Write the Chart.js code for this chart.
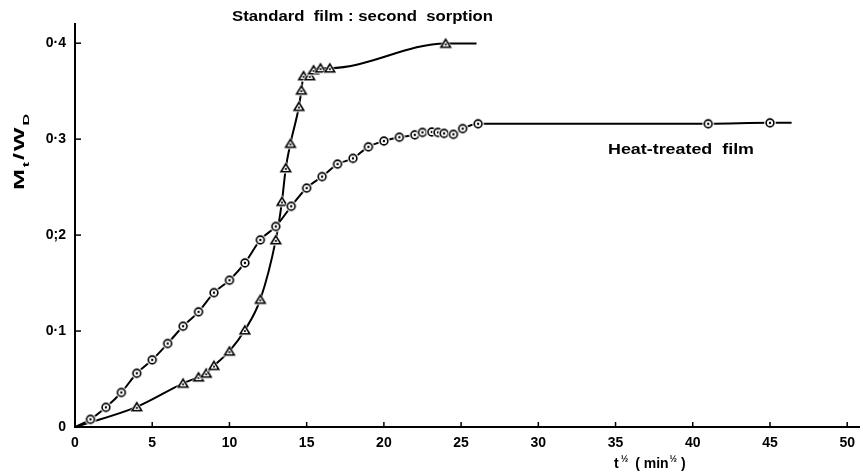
<!DOCTYPE html>
<html>
<head>
<meta charset="utf-8">
<script src="https://cdn.jsdelivr.net/npm/chart.js@4.4.0/dist/chart.umd.min.js"></script>
<style>
body{margin:0;background:#fff}
</style>
</head>
<body>
<canvas id="canvas" width="863" height="472"></canvas>
<script>
// heat-treated film (circles)
var heatX=[0,1,2,3,4,5,6,7,8,9,10,11,12,13,14,15,16,17,18,19,20,21,22,22.5,23.1,23.5,23.9,24.5,25.1,26.1,41,45,46.4]
var heatY=[0,0.008,0.0205,0.036,0.056,0.070,0.087,0.105,0.120,0.140,0.153,0.171,0.195,0.209,0.230,0.249,0.261,0.274,0.280,0.292,0.298,0.302,0.3045,0.307,0.3075,0.307,0.306,0.305,0.311,0.316,0.316,0.317,0.317]
// standard film, second sorption (triangles)
var stdX=[0,4,7,8,8.5,9,10,11,12,13,13.4,13.65,13.95,14.5,14.66,14.8,15.2,15.45,15.9,16.5,24,26]
var stdY=[0,0.021,0.0455,0.052,0.056,0.064,0.079,0.101,0.133,0.195,0.235,0.270,0.2955,0.334,0.351,0.366,0.366,0.372,0.374,0.374,0.3997,0.3997]
var yTickLabels={'0':'0','0.1':'0·1','0.2':'0;2','0.3':'0·3','0.4':'0·4'}

var FONT='"Liberation Sans", Arial, sans-serif'

function toPoints(xs,ys){
    var pts=[]
    for(var i=0;i<xs.length;i++){ pts.push({x:xs[i],y:ys[i]}) }
    return pts
}

function circleMarker(){
    var c=document.createElement('canvas'); c.width=14; c.height=14
    var g=c.getContext('2d')
    g.beginPath(); g.arc(7,7,5.8,0,Math.PI*2); g.fillStyle='#fff'; g.fill()
    g.beginPath(); g.arc(7,7,3.9,0,Math.PI*2); g.lineWidth=1.6; g.strokeStyle='#000'; g.stroke()
    g.beginPath(); g.arc(7,7,1.2,0,Math.PI*2); g.fillStyle='#000'; g.fill()
    return c
}
function triMarker(){
    var c=document.createElement('canvas'); c.width=16; c.height=14
    var g=c.getContext('2d')
    g.beginPath(); g.moveTo(8,0.5); g.lineTo(15.5,12.5); g.lineTo(0.5,12.5); g.closePath(); g.fillStyle='#fff'; g.fill()
    g.beginPath(); g.moveTo(8,2.8); g.lineTo(12.8,10.8); g.lineTo(3.2,10.8); g.closePath()
    g.lineWidth=1.6; g.strokeStyle='#000'; g.lineJoin='miter'; g.stroke()
    g.beginPath(); g.arc(8,8,1.1,0,Math.PI*2); g.fillStyle='#000'; g.fill()
    return c
}
var circ=circleMarker(), tri=triMarker()

function endRadius(n){
    return function(c){ return (c.dataIndex===0||c.dataIndex===n-1)?0:4 }
}

function drawFit(ctx,text,x,y,w,font){
    ctx.save()
    ctx.font=font
    var s=w/ctx.measureText(text).width
    ctx.translate(x,y); ctx.scale(s,1)
    ctx.fillText(text,0,0)
    ctx.restore()
}

var extras={
    id:'extras',
    afterDraw:function(chart){
        var ctx=chart.ctx, xs=chart.scales.x, ys=chart.scales.y, a=chart.chartArea
        ctx.save()
        ctx.strokeStyle='#000'; ctx.lineWidth=1.5
        xs.ticks.forEach(function(t){
            if(t.value===0) return
            var px=xs.getPixelForValue(t.value)
            ctx.beginPath(); ctx.moveTo(px,a.bottom); ctx.lineTo(px,a.bottom-5); ctx.stroke()
        })
        ys.ticks.forEach(function(t){
            if(t.value===0) return
            var py=ys.getPixelForValue(t.value)
            ctx.beginPath(); ctx.moveTo(a.left,py); ctx.lineTo(a.left+6,py); ctx.stroke()
        })
        ctx.fillStyle='#000'
        ctx.textBaseline='alphabetic'; ctx.textAlign='left'
        drawFit(ctx,'Standard  film : second  sorption',232,21,261,'bold 14px '+FONT)
        drawFit(ctx,'Heat-treated  film',608,154,146,'bold 14px '+FONT)

        // x axis title  t^1/2 ( min^1/2 )
        var big='bold 14px '+FONT, sm='bold 9px '+FONT
        var x=614, b=468
        ctx.font=big; ctx.fillText('t',x,b); x+=ctx.measureText('t').width+2
        ctx.font=sm; ctx.fillText('½',x,b-6); x+=ctx.measureText('½').width+7
        ctx.font=big; ctx.fillText('( min',x,b); x+=ctx.measureText('( min').width+1
        ctx.font=sm; ctx.fillText('½',x,b-6); x+=ctx.measureText('½').width+4
        ctx.font=big; ctx.fillText(')',x,b)

        // y axis title  M_t / W_D (rotated)
        ctx.save()
        ctx.translate(24,190); ctx.rotate(-Math.PI/2)
        var parts=[['M',big,0],['t',sm,5],['/',big,0],['W',big,0],['D',sm,5]]
        var tot=0
        parts.forEach(function(p){ ctx.font=p[1]; tot+=ctx.measureText(p[0]).width+1 })
        ctx.scale(78/tot,1)
        var px=0
        parts.forEach(function(p){ ctx.font=p[1]; ctx.fillText(p[0],px,p[2]); px+=ctx.measureText(p[0]).width+1 })
        ctx.restore()
        ctx.restore()
    }
}

var ctx=document.getElementById('canvas').getContext('2d')
var myChart=new Chart(ctx,{
    type:'line',
    data:{
        datasets:[{
            label:'Heat-treated film',
            data:toPoints(heatX,heatY),
            borderColor:'#000',
            borderWidth:2,
            cubicInterpolationMode:'monotone',
            pointStyle:circ,
            pointRadius:endRadius(heatX.length),
            pointHoverRadius:0
        },{
            label:'Standard film : second sorption',
            data:toPoints(stdX,stdY),
            borderColor:'#000',
            borderWidth:2,
            cubicInterpolationMode:'monotone',
            pointStyle:tri,
            pointRadius:endRadius(stdX.length),
            pointHoverRadius:0
        }]
    },
    options:{
        responsive:false,
        animation:false,
        devicePixelRatio:1,
        layout:{padding:{top:24,right:1,left:0,bottom:0}},
        plugins:{legend:{display:false},tooltip:{enabled:false}},
        scales:{
            x:{
                type:'linear',
                min:0,max:50.8,
                grid:{display:false,drawTicks:false},
                border:{color:'#000',width:2},
                ticks:{stepSize:5,includeBounds:false,padding:8,color:'#000',maxRotation:0,
                    font:{family:FONT,size:14,weight:'bold'}},
                afterFit:function(s){ s.height=45 }
            },
            y:{
                min:0,max:0.42,
                grid:{display:false,drawTicks:false},
                border:{color:'#000',width:2},
                ticks:{stepSize:0.1,includeBounds:false,padding:9,color:'#000',
                    font:{family:FONT,size:14,weight:'bold'},
                    callback:function(v){ return yTickLabels[String(Math.round(v*10)/10)] }},
                afterFit:function(s){ s.width=75 }
            }
        }
    },
    plugins:[extras]
})
</script>
</body>
</html>
